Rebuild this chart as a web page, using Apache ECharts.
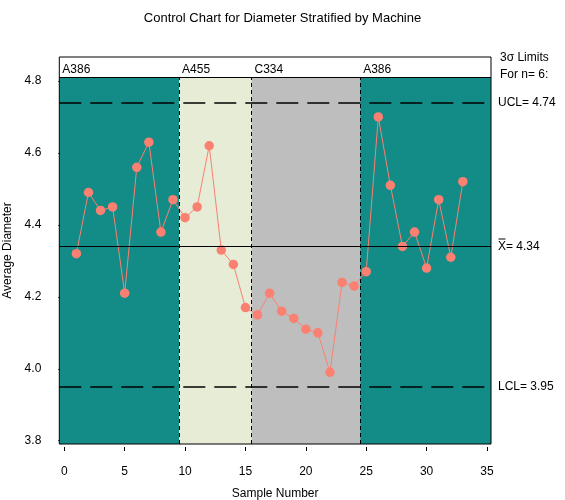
<!DOCTYPE html>
<html>
<head>
<meta charset="utf-8">
<script src="https://cdn.jsdelivr.net/npm/echarts@6/dist/echarts.min.js"></script>
<style>
html,body{margin:0;padding:0;background:#fff;}
#chart{width:565px;height:500px;}
</style>
</head>
<body>
<div id="chart"></div>
<script>
// ---- data ----
const sampleNumbers = [1,2,3,4,5,6,7,8,9,10,11,12,13,14,15,16,17,18,19,20,21,22,23,24,25,26,27,28,29,30,31,32,33];
const averageDiameter = [4.32,4.49,4.44,4.45,4.21,4.56,4.63,4.38,4.47,4.42,4.45,4.62,4.33,4.29,4.17,4.15,4.21,4.16,4.14,4.11,4.10,3.99,4.24,4.23,4.27,4.70,4.51,4.34,4.38,4.28,4.47,4.31,4.52];
const phaseNames = ['A386','A455','C334','A386'];
const phaseBounds = [9.5, 15.5, 24.5];
const ucl = 4.74, centerLine = 4.344, lcl = 3.95;
const yTicks = [3.8,4.0,4.2,4.4,4.6,4.8];
const xTicks = [0,5,10,15,20,25,30,35];
const subgroupSize = 6;

// ---- axis ranges / styles ----
const xMin = -0.414, xMax = 35.331;
const yMin = 3.7908, yMax = 4.8667, bandBottom = 4.8111;
const phaseColors = {A386:'#138B87', A455:'#E7ECD6', C334:'#BEBEBE'};
const font = 'Liberation Sans, Arial, sans-serif';

const edges = [xMin].concat(phaseBounds, [xMax]);
const fillAreas = phaseNames.map((n,i)=>[
  {coord:[edges[i], yMin], itemStyle:{color:phaseColors[n]}},
  {coord:[edges[i+1], bandBottom]}
]);
const labelAreas = phaseNames.map((n,i)=>[
  {coord:[edges[i], bandBottom], name:n},
  {coord:[edges[i+1], yMax]}
]);

const chart = echarts.init(document.getElementById('chart'));
chart.setOption({
  animation:false,
  backgroundColor:'#fff',
  title:[
    {text:'Control Chart for Diameter Stratified by Machine', left:'center', top:7,
     textStyle:{fontFamily:font, fontSize:13, fontWeight:'normal', color:'#000'}},
    {text:'3\u03C3 Limits\nFor n= ' + subgroupSize + ':', left:495, top:44, textAlign:'left',
     textStyle:{fontFamily:font, fontSize:12, fontWeight:'normal', color:'#000', lineHeight:17, align:'left'}}
  ],
  grid:{left:59.3, right:74, top:57, bottom:56, show:true, borderColor:'#000', borderWidth:1,
        backgroundColor:'transparent', z:10, containLabel:false, outerBoundsMode:'none'},
  xAxis:{
    type:'value', min:xMin, max:xMax, offset:3,
    name:'Sample Number', nameLocation:'middle', nameGap:41,
    nameTextStyle:{fontFamily:font, fontSize:12, color:'#000'},
    axisLine:{show:false},
    axisTick:{show:true, length:4, customValues:xTicks, lineStyle:{color:'#000'}},
    axisLabel:{customValues:xTicks, margin:19, fontFamily:font, fontSize:12, color:'#000'},
    splitLine:{show:false}
  },
  yAxis:{
    type:'value', min:yMin, max:yMax,
    name:'Average Diameter', nameLocation:'middle', nameGap:38,
    nameTextStyle:{fontFamily:font, fontSize:12, color:'#000'},
    axisLine:{show:false},
    axisTick:{show:true, length:6, customValues:yTicks, lineStyle:{color:'#000'}},
    axisLabel:{customValues:yTicks, margin:18, fontFamily:font, fontSize:12, color:'#000',
               formatter:v=>Number(v).toFixed(1)},
    splitLine:{show:false}
  },
  series:[
    {
      type:'line', z:1, data:[], silent:true,
      markArea:{silent:true, z:1, itemStyle:{borderWidth:0}, label:{show:false}, data:fillAreas}
    },
    {
      type:'line', z:2, data:[], silent:true,
      markArea:{silent:true, itemStyle:{color:'rgba(0,0,0,0)', borderWidth:0},
        label:{show:true, position:'insideLeft', distance:3, offset:[0,3], fontFamily:font, fontSize:12, color:'#000'},
        data:labelAreas},
      markLine:{silent:true, symbol:'none', label:{show:false},
        lineStyle:{color:'#000', type:[4,3], width:1},
        data: phaseBounds.map(b=>[{coord:[b,yMin]},{coord:[b,bandBottom]}]).concat([
          [{coord:[xMin,bandBottom], lineStyle:{type:'solid'}},{coord:[xMax,bandBottom]}]
        ])}
    },
    {
      type:'line', z:3, silent:true,
      data: sampleNumbers.map((s,i)=>[s, averageDiameter[i]]),
      symbol:'circle', symbolSize:9.5, showAllSymbol:true,
      itemStyle:{color:'#FA8072'},
      lineStyle:{color:'#FA8072', width:1},
      markLine:{silent:true, symbol:'none',
        label:{show:true, position:'end', distance:7, fontFamily:font, fontSize:12, color:'#000'},
        data:[
          {yAxis:ucl, lineStyle:{color:'#000', type:[22,9], width:1.5}, label:{formatter:'UCL= '+ucl.toFixed(2)}},
          {yAxis:centerLine, lineStyle:{color:'#000', type:'solid', width:1}, label:{formatter:'X\u033F= '+centerLine.toFixed(2)}},
          {yAxis:lcl, lineStyle:{color:'#000', type:[22,9], width:1.5}, label:{formatter:'LCL= '+lcl.toFixed(2)}}
        ]}
    }
  ]
});
</script>
</body>
</html>
